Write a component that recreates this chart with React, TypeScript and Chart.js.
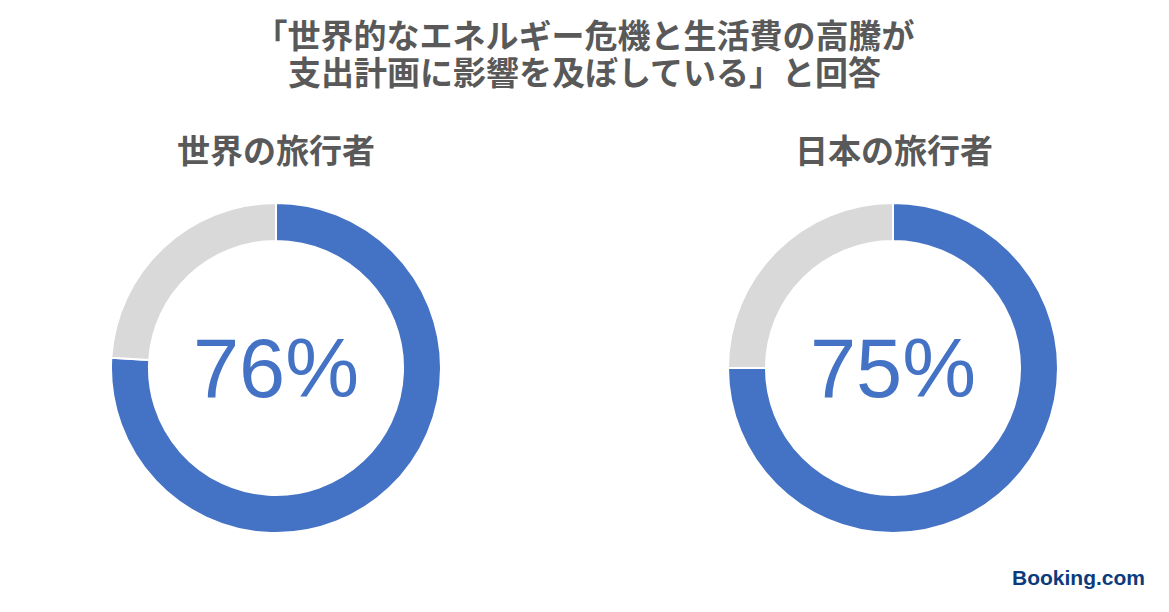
import React, { useEffect, useRef } from "react";
import { Chart, registerables } from "chart.js";

Chart.register(...registerables);

const titleLines = ["「世界的なエネルギー危機と生活費の高騰が", "支出計画に影響を及ぼしている」と回答"];
const groupLabels = ["世界の旅行者", "日本の旅行者"];
const sliceLabels = ["影響あり", "その他"];
const worldValues = [76, 24];
const japanValues = [75, 25];
const centerTexts = ["76%", "75%"];
const sliceColors = ["#4472C4", "#D9D9D9"];

const centerTextPlugin = {
  id: "centerText",
  afterDraw(chart: any) {
    const text = chart.options.plugins.centerText?.text;
    if (!text) return;
    const meta = chart.getDatasetMeta(0);
    const arc = meta.data[0];
    if (!arc) return;
    const { ctx } = chart;
    ctx.save();
    ctx.fillStyle = "#4472C4";
    ctx.font = "83px 'Liberation Sans', Arial, sans-serif";
    ctx.textAlign = "center";
    ctx.textBaseline = "middle";
    ctx.fillText(text, arc.x, arc.y + 6);
    ctx.restore();
  },
};

function Donut({ values, text, left, top, size }: { values: number[]; text: string; left: number; top: number; size: number }) {
  const ref = useRef<HTMLCanvasElement>(null);
  useEffect(() => {
    if (!ref.current) return;
    const chart = new Chart(ref.current, {
      type: "doughnut",
      data: {
        labels: sliceLabels,
        datasets: [
          {
            data: values,
            backgroundColor: sliceColors,
            borderColor: "#FFFFFF",
            borderWidth: 2,
          },
        ],
      },
      options: {
        animation: false,
        responsive: false,
        maintainAspectRatio: false,
        cutout: "77%",
        layout: { padding: 0 },
        plugins: {
          legend: { display: false },
          tooltip: { enabled: false },
          centerText: { text },
        } as any,
      },
      plugins: [centerTextPlugin],
    });
    return () => chart.destroy();
  }, []);
  return (
    <canvas
      ref={ref}
      width={size}
      height={size}
      style={{ position: "absolute", left, top, width: size, height: size }}
    />
  );
}

export default function App() {
  const jp = "'Noto Sans CJK JP', 'Noto Sans', sans-serif";
  const sub = {
    position: "absolute" as const,
    top: 129,
    width: 300,
    textAlign: "center" as const,
    fontFamily: jp,
    fontWeight: 700,
    fontSize: 33,
    lineHeight: "40px",
    color: "#595959",
  };
  return (
    <div
      style={{
        position: "fixed",
        left: 0,
        top: 0,
        width: 1169,
        height: 612,
        background: "#FFFFFF",
        overflow: "hidden",
      }}
    >
      <div
        style={{
          position: "absolute",
          left: 0,
          top: 16,
          width: 1169,
          textAlign: "center",
          fontFamily: jp,
          fontWeight: 700,
          fontSize: 33,
          lineHeight: "37px",
          color: "#595959",
        }}
      >
        {titleLines.map((l, i) => (
          <div key={i}>{l}</div>
        ))}
      </div>
      <div style={{ ...sub, left: 126 }}>{groupLabels[0]}</div>
      <div style={{ ...sub, left: 744 }}>{groupLabels[1]}</div>
      <Donut values={worldValues} text={centerTexts[0]} left={110} top={202} size={332} />
      <Donut values={japanValues} text={centerTexts[1]} left={727} top={202} size={332} />
      <div
        style={{
          position: "absolute",
          right: 24,
          top: 565,
          fontFamily: "'Liberation Sans', Arial, sans-serif",
          fontWeight: 700,
          fontSize: 21,
          lineHeight: "26px",
          color: "#0C3B7C",
        }}
      >
        Booking.com
      </div>
    </div>
  );
}
